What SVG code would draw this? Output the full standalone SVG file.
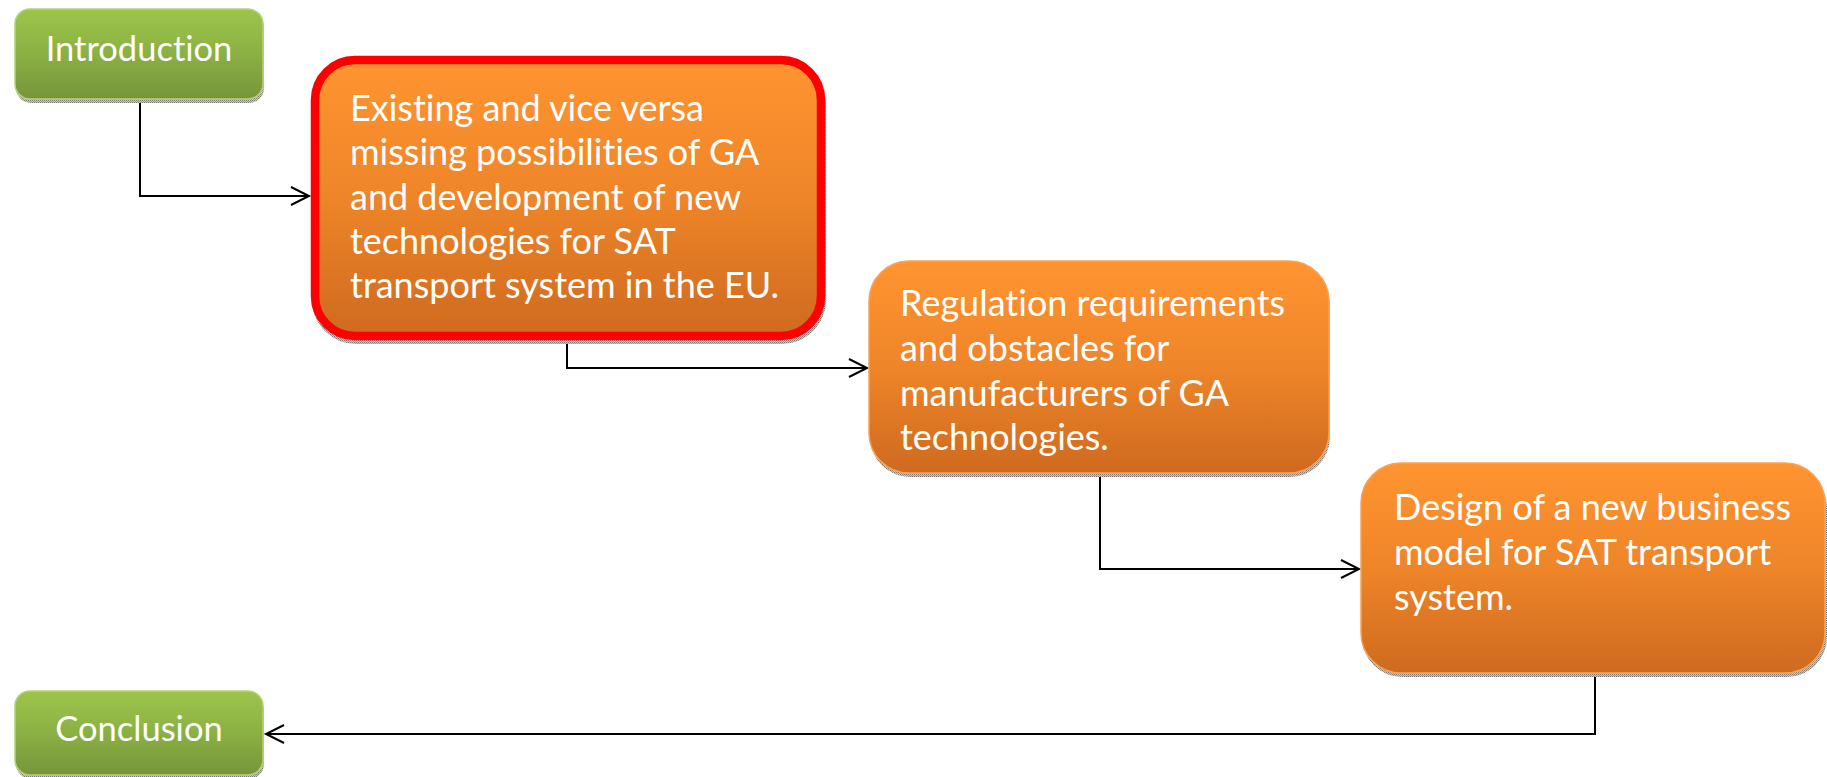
<svg xmlns="http://www.w3.org/2000/svg" width="1827" height="777" viewBox="0 0 1827 777">
  <defs>
    <linearGradient id="gGreen" x1="0" y1="0" x2="0" y2="1">
      <stop offset="0" stop-color="#9dc54b"/>
      <stop offset="0.5" stop-color="#8bb043"/>
      <stop offset="1" stop-color="#76953a"/>
    </linearGradient>
    <linearGradient id="gOrange" x1="0" y1="0" x2="0" y2="1">
      <stop offset="0" stop-color="#ff9430"/>
      <stop offset="0.5" stop-color="#ee8529"/>
      <stop offset="1" stop-color="#cf6a1f"/>
    </linearGradient>
    <!-- dithered grey used for the soft drop shadows -->
    <pattern id="dither" width="2" height="2" patternUnits="userSpaceOnUse">
      <rect width="2" height="2" fill="#c8c8c8"/>
      <rect width="1" height="1" fill="#7a7a7a"/>
      <rect x="1" y="1" width="1" height="1" fill="#9a9a9a"/>
    </pattern>
    <marker id="arrow" markerUnits="userSpaceOnUse" markerWidth="22" markerHeight="22" refX="18" refY="9" orient="auto" overflow="visible">
      <path d="M0,0 L18,9 L0,18" fill="none" stroke="#000" stroke-width="2"/>
    </marker>
    <style>
      .shadow { fill: url(#dither); }
      .green { fill: url(#gGreen); stroke: #b5d27a; stroke-width: 1.5; }
      .orange { fill: url(#gOrange); stroke: #f7a45a; stroke-width: 1.5; }
      .hot { fill: url(#gOrange); stroke: #ff0000; stroke-width: 8.5; }
      .label { font-family: Lato, "Open Sans", "Liberation Sans", sans-serif; fill: #ffffff; font-variant-ligatures: none; }
      .big { font-size: 34.5px; text-anchor: middle; }
      .body { font-size: 36px; }
      .conn { fill: none; stroke: #000; stroke-width: 2; marker-end: url(#arrow); }
    </style>
  </defs>

  <g id="connectors">
    <path class="conn" d="M140,99 V196 H309"/>
    <path class="conn" d="M567,340 V368 H867"/>
    <path class="conn" d="M1100,473 V569 H1359"/>
    <path class="conn" d="M1595,673 V734 H266"/>
  </g>

  <g id="introduction">
    <rect class="shadow" x="16" y="13" width="248" height="90" rx="15"/>
    <rect class="green" x="15" y="9" width="248" height="90" rx="15"/>
    <text class="label big" x="139" y="61">Introduction</text>
  </g>

  <g id="existing-possibilities">
    <rect class="shadow" x="312" y="60" width="514" height="284" rx="44"/>
    <rect class="hot" x="315" y="60" width="506" height="276" rx="40"/>
    <text class="label body">
      <tspan x="350" y="121">Existing and vice versa</tspan>
      <tspan x="350" y="165">missing possibilities of GA</tspan>
      <tspan x="350" y="210">and development of new</tspan>
      <tspan x="350" y="254">technologies for SAT</tspan>
      <tspan x="350" y="298">transport system in the EU.</tspan>
    </text>
  </g>

  <g id="regulation">
    <rect class="shadow" x="870" y="265" width="460" height="212" rx="40"/>
    <rect class="orange" x="869" y="261" width="460" height="212" rx="40"/>
    <text class="label body">
      <tspan x="900" y="316">Regulation requirements</tspan>
      <tspan x="900" y="361">and obstacles for</tspan>
      <tspan x="900" y="406">manufacturers of GA</tspan>
      <tspan x="900" y="450">technologies.</tspan>
    </text>
  </g>

  <g id="business-model">
    <rect class="shadow" x="1362" y="467" width="465" height="210" rx="40"/>
    <rect class="orange" x="1361" y="463" width="464" height="210" rx="40"/>
    <text class="label body">
      <tspan x="1394" y="520">Design of a new business</tspan>
      <tspan x="1394" y="565">model for SAT transport</tspan>
      <tspan x="1394" y="610">system.</tspan>
    </text>
  </g>

  <g id="conclusion">
    <rect class="shadow" x="16" y="695" width="248" height="84" rx="15"/>
    <rect class="green" x="15" y="691" width="248" height="84" rx="15"/>
    <text class="label big" x="139" y="741">Conclusion</text>
  </g>
</svg>
